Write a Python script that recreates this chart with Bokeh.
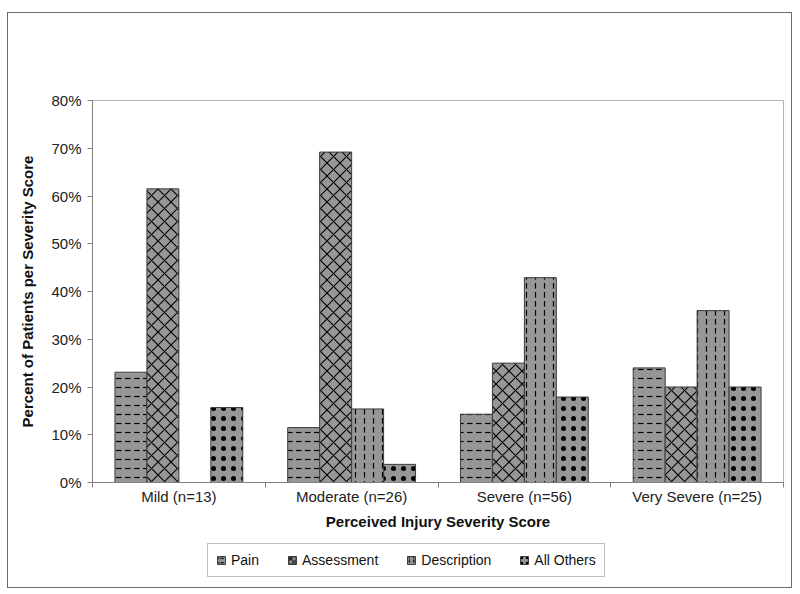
import numpy as np
from bokeh.plotting import figure
from bokeh.layouts import column
from bokeh.models import ColumnDataSource, FixedTicker, NumeralTickFormatter, Legend, LegendItem, Range1d
from bokeh.transform import dodge
from bokeh.embed import file_html
from bokeh.resources import INLINE

categories = ["Mild (n=13)", "Moderate (n=26)", "Severe (n=56)", "Very Severe (n=25)"]
series_names = ["Pain", "Assessment", "Description", "All Others"]
pain = [0.231, 0.115, 0.143, 0.240]
assessment = [0.615, 0.692, 0.250, 0.200]
description = [0.000, 0.154, 0.429, 0.360]
all_others = [0.157, 0.038, 0.179, 0.200]
y_ticks = [0.0, 0.1, 0.2, 0.3, 0.4, 0.5, 0.6, 0.7, 0.8]

centers = list(np.arange(len(categories)) + 0.5)
source = ColumnDataSource(dict(x=centers, pain=pain, assessment=assessment,
                               description=description, all_others=all_others))

FONT = "Liberation Sans"
p = figure(frame_width=691, frame_height=382, output_backend="svg", toolbar_location=None,
           x_range=Range1d(0, len(categories)), y_range=Range1d(0, 0.8),
           min_border_left=84, min_border_right=8, min_border_top=87, min_border_bottom=48)
p.background_fill_color = "white"
p.border_fill_color = "white"
p.outline_line_color = "#b4b4b4"
p.outline_line_width = 1
p.xgrid.visible = False
p.ygrid.visible = False

bw = 0.185
offsets = [-1.5 * bw, -0.5 * bw, 0.5 * bw, 1.5 * bw]
fields = ["pain", "assessment", "description", "all_others"]
hatches = ["horizontal_dash", "diagonal_cross", "vertical_dash", "dot"]
scales = [9, 13, 9, 10]
weights = [1.2, 1.1, 1.2, 5]
style = dict(fill_color="#979797", line_color="#3c3c3c", line_width=1, hatch_color="black")
for f, off, h, sc, wt in zip(fields, offsets, hatches, scales, weights):
    p.vbar(x=dodge("x", off), top=f, width=bw, source=source,
           hatch_pattern=h, hatch_scale=sc, hatch_weight=wt, **style)

# x axis: labels at category centres, ticks at boundaries
p.xaxis.ticker = FixedTicker(ticks=centers, minor_ticks=list(range(len(categories) + 1)))
p.xaxis.major_label_overrides = {c: lab for c, lab in zip(centers, categories)}
p.xaxis.major_tick_out = 0
p.xaxis.major_tick_in = 0
p.xaxis.minor_tick_out = 5
p.xaxis.minor_tick_in = 0
p.xaxis.axis_label = "Perceived Injury Severity Score"

p.yaxis.ticker = FixedTicker(ticks=y_ticks, minor_ticks=[])
p.yaxis.formatter = NumeralTickFormatter(format="0%")
p.yaxis.major_tick_out = 5
p.yaxis.major_tick_in = 0
p.yaxis.axis_label = "Percent of Patients per Severity Score"

for ax in (p.xaxis[0], p.yaxis[0]):
    ax.axis_line_color = "#808080"
    ax.major_tick_line_color = "#808080"
    ax.minor_tick_line_color = "#808080"
    ax.major_label_text_font = FONT
    ax.major_label_text_font_size = "15px"
    ax.major_label_text_color = "#222222"
    ax.axis_label_text_font = FONT
    ax.axis_label_text_font_size = "15px"
    ax.axis_label_text_font_style = "bold"
    ax.axis_label_text_color = "#111111"
p.xaxis.major_label_standoff = 0
p.xaxis.axis_label_standoff = 5
p.yaxis.major_label_standoff = 6
p.yaxis.axis_label_standoff = 12

# legend strip below the chart (its ranges are away from the data, so its bars stay hidden)
leg = figure(width=783, height=55, output_backend="svg", toolbar_location=None,
             x_range=Range1d(100, 101), y_range=Range1d(100, 101),
             x_axis_type=None, y_axis_type=None,
             min_border_left=0, min_border_right=0, min_border_top=0, min_border_bottom=0)
leg.outline_line_color = None
leg.xgrid.visible = False
leg.ygrid.visible = False
leg_renderers = []
for f, h, sc, wt in zip(fields, hatches, scales, weights):
    r = leg.vbar(x="x", top=f, width=bw, source=source,
                 hatch_pattern=h, hatch_scale=max(sc * 0.5, 4), hatch_weight=min(wt, 2), **style)
    leg_renderers.append(r)

legend = Legend(items=[LegendItem(label=n, renderers=[r], index=0) for n, r in zip(series_names, leg_renderers)],
                orientation="horizontal", location=(115, 10))
legend.label_text_font = FONT
legend.label_text_font_size = "14px"
legend.label_text_color = "#111111"
legend.glyph_width = 10
legend.glyph_height = 10
legend.label_standoff = 5
legend.spacing = 28
legend.padding = 8
legend.margin = 0
legend.border_line_color = "#808080"
legend.border_line_width = 1
legend.label_height = 14
leg.add_layout(legend, "center")

layout = column(p, leg, spacing=0)
layout.styles = {"border": "1px solid #6a6a6a", "margin-top": "12px", "margin-left": "7px"}

open("out.html", "w").write(file_html(layout, INLINE))
